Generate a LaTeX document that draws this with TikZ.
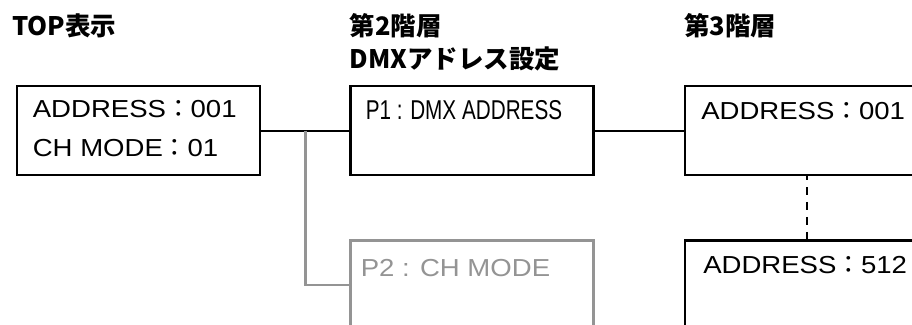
\documentclass[tikz,border=0pt]{standalone}
\usepackage{fontspec}
\setmainfont[FakeStretch=1.12]{Liberation Sans}
\newfontfamily\jpfont{Noto Sans CJK JP}
\newfontfamily\narrowfont[FakeStretch=0.76]{Liberation Sans}
\newcommand{\zcolon}{{\jpfont ：}}
\usetikzlibrary{positioning,calc}

\begin{document}
\begin{tikzpicture}[boxnode/.style={draw=black, line width=1.4pt, minimum width=4.86cm, minimum height=1.78cm, inner sep=0pt},
                    greynode/.style={boxnode, draw=black!42},
                    textnode/.style={anchor=base west, inner sep=0pt, align=left, font=\fontsize{14}{22.2}\selectfont},
                    headnode/.style={anchor=base west, inner sep=0pt, font=\jpfont\bfseries\fontsize{14.5}{17}\selectfont},
                    link/.style={line width=1.2pt}]
    \useasboundingbox (0,0) rectangle (18.24,-6.5);
    \clip (0,0) rectangle (18.24,-6.5);
    % boxes
    \node[boxnode, anchor=north west] (A)  at (0.32,-1.70)        {};
    \node[boxnode]                    (B)  [right=1.76cm of A]    {};
    \node[boxnode]                    (C)  [right=1.78cm of B]    {};
    \node[greynode]                   (P2) [below=1.26cm of B]    {};
    \node[boxnode]                    (D)  [below=1.26cm of C]    {};
    % headings
    \node[headnode] (hA)  at ([shift={(-0.08cm,0.99cm)}]A.north west) {TOP表示};
    \node[headnode] (hB)  at ([shift={(0cm,0.99cm)}]B.north west)     {第2階層};
    \node[headnode] (hB2) at ([yshift=-0.66cm]hB.base west)           {DMXアドレス設定};
    \node[headnode] (hC)  at ([shift={(0cm,0.99cm)}]C.north west)     {第3階層};
    % texts (base of a two-line node is its last line)
    \node[textnode] (tA)  at ([shift={(0.33cm,-1.44cm)}]A.north west)  {ADDRESS\zcolon 001\\CH MODE\zcolon 01};
    \node[textnode, font=\narrowfont\fontsize{15.5}{18}\selectfont]
                    (tB)  at ([shift={(0.32cm,-0.70cm)}]B.north west)  {P1 : DMX ADDRESS};
    \node[textnode] (tC)  at ([shift={(0.34cm,-0.70cm)}]C.north west)  {ADDRESS\zcolon 001};
    \node[textnode, text=black!42]
                    (tP2) at ([shift={(0.22cm,-0.74cm)}]P2.north west) {P2 : CH MODE};
    \node[textnode] (tD)  at ([shift={(0.38cm,-0.68cm)}]D.north west)  {ADDRESS\zcolon 512};
    % lines
    \coordinate (fork) at ($(A.east)!0.5!(B.west)$);
    \draw[link] (A.east) -- (B.west);
    \draw[link] (B.east) -- (C.west);
    \draw[link, black!42] (fork) |- (P2.west);
    \draw[link, dash pattern=on 4.5pt off 4pt, dash phase=-6pt] (C.south) -- (D.north);
\end{tikzpicture}
\end{document}
